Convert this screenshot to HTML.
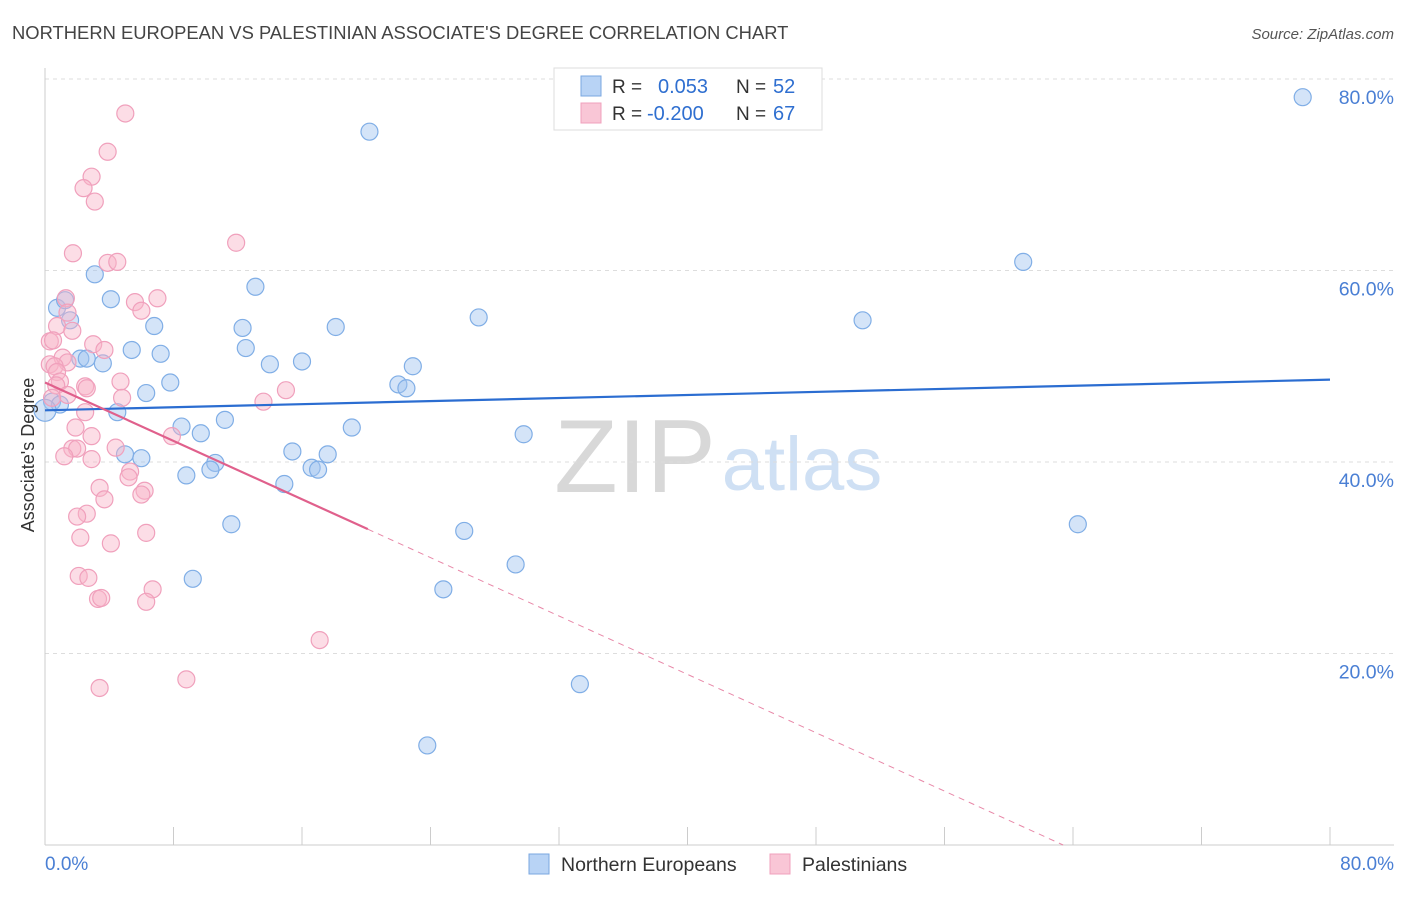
<!DOCTYPE html>
<html><head><meta charset="utf-8"><style>
body{margin:0;background:#fff;font-family:"Liberation Sans",sans-serif;}
svg text{font-family:"Liberation Sans",sans-serif;}
</style></head><body>
<svg id="chart" width="1406" height="892" xmlns="http://www.w3.org/2000/svg">
<text x="12" y="39" font-size="18.4" fill="#444">NORTHERN EUROPEAN VS PALESTINIAN ASSOCIATE'S DEGREE CORRELATION CHART</text>
<text x="1394" y="39" font-size="15" fill="#555" text-anchor="end" font-style="italic">Source: ZipAtlas.com</text>
<g>
<text x="635" y="492" font-size="104" fill="#d8d8d8" text-anchor="middle" font-family="Liberation Serif">ZIP</text>
<text x="802" y="490" font-size="76" fill="#cfe0f4" text-anchor="middle">atlas</text>
</g>
<g id="grid"></g>
<g id="axes"></g>
<g id="marks"></g>
<text transform="translate(34,455) rotate(-90)" font-size="18" fill="#333" text-anchor="middle">Associate's Degree</text>
<text x="45" y="870" font-size="19" fill="#4a7fd4">0.0%</text>
<text x="1394" y="870" font-size="19" fill="#4a7fd4" text-anchor="end">80.0%</text>
<g>
<rect x="554" y="68" width="268" height="62" fill="#fff" stroke="#ddd"/>
<rect x="581" y="76" width="20" height="20" fill="#b8d3f5" stroke="#7aa7e0"/>
<rect x="581" y="103" width="20" height="20" fill="#f9c6d6" stroke="#f0a0bc"/>
<text x="612" y="93" font-size="19" fill="#333">R =</text>
<text x="658" y="93" font-size="20" fill="#2f6fd0">0.053</text>
<text x="736" y="93" font-size="19" fill="#333">N =</text>
<text x="773" y="93" font-size="20" fill="#2f6fd0">52</text>
<text x="612" y="120" font-size="19" fill="#333">R =</text>
<text x="647" y="120" font-size="20" fill="#2f6fd0">-0.200</text>
<text x="736" y="120" font-size="19" fill="#333">N =</text>
<text x="773" y="120" font-size="20" fill="#2f6fd0">67</text>
</g>
<g>
<rect x="529" y="854" width="20" height="20" fill="#b8d3f5" stroke="#7aa7e0"/>
<text x="561" y="871" font-size="19.5" fill="#333">Northern Europeans</text>
<rect x="770" y="854" width="20" height="20" fill="#f9c6d6" stroke="#f0a0bc"/>
<text x="802" y="871" font-size="19.5" fill="#333">Palestinians</text>
</g>
</svg>
<script>
const yTicks=[20,40,60,80];
const yTickLabels=["20.0%","40.0%","60.0%","80.0%"];
const xTicks=[0,8,16,24,32,40,48,56,64,72,80];
const blueX=[78.3,20.2,60.9,3.1,13.1,0.75,4.1,1.25,1.56,27.0,50.9,6.8,12.3,18.1,12.5,5.4,7.2,2.2,2.6,3.6,14.0,16.0,22.9,6.3,7.8,22.0,22.5,0.44,0.93,0,4.5,11.2,8.5,9.7,19.1,29.8,4.98,6.0,15.4,17.6,10.6,10.3,16.6,17.0,8.8,14.9,11.6,26.1,64.3,29.3,9.2,24.8,33.3,23.8];
const blueY=[78.1,74.5,60.9,59.6,58.3,56.1,57.0,56.9,54.8,55.1,54.8,54.2,54.0,54.1,51.9,51.7,51.3,50.8,50.8,50.3,50.2,50.5,50.0,47.2,48.3,48.1,47.7,46.3,46.0,45.4,45.2,44.4,43.7,43.0,43.6,42.9,40.8,40.4,41.1,40.8,39.9,39.2,39.4,39.2,38.6,37.7,33.5,32.8,33.5,29.3,27.8,26.7,16.8,10.4];
const pinkX=[5.0,3.9,2.9,2.4,3.1,11.9,1.74,3.9,4.5,7.0,5.6,1.3,6.0,1.4,0.75,1.7,0.3,0.5,3.0,3.7,1.1,1.4,0.3,0.6,0.75,0.93,0.7,2.5,2.6,4.7,15.0,1.4,0.44,4.8,13.6,2.5,1.9,2.9,7.9,4.4,1.7,2.0,1.2,2.9,5.3,5.2,3.4,6.2,6.0,3.7,2.6,2.0,6.3,2.2,4.1,2.1,2.7,6.7,3.3,3.5,6.3,17.1,8.8,3.4];
const pinkY=[76.4,72.4,69.8,68.6,67.2,62.9,61.8,60.8,60.9,57.1,56.7,57.1,55.8,55.6,54.2,53.7,52.6,52.7,52.3,51.7,50.9,50.4,50.2,50.0,49.4,48.4,48.0,47.9,47.7,48.4,47.5,47.0,46.7,46.7,46.3,45.2,43.6,42.7,42.7,41.5,41.4,41.4,40.6,40.3,39.0,38.4,37.3,37.0,36.6,36.1,34.6,34.3,32.6,32.1,31.5,28.1,27.9,26.7,25.7,25.8,25.4,21.4,17.3,16.4];
const blueTrend=[45.4,0.04];
const pinkTrend=[48.3,-0.762];
const pinkSolidEnd=20.1;

const NS="http://www.w3.org/2000/svg";
const X0=45,X1=1330,Y0=845,Y80=79;
const xs=v=>X0+(v/80)*(X1-X0);
const ys=v=>Y0-(v/80)*(Y0-Y80);
function mk(tag,attrs,parent){const e=document.createElementNS(NS,tag);for(const k in attrs)e.setAttribute(k,attrs[k]);parent.appendChild(e);return e;}
const grid=document.getElementById('grid'),axes=document.getElementById('axes'),marks=document.getElementById('marks');
yTicks.forEach((t,i)=>{
 const l=mk('line',{x1:X0,x2:1394,y1:ys(t),y2:ys(t),stroke:'#ddd','stroke-dasharray':'4,4'},grid);
 
 
 const tx=mk('text',{x:1394,y:ys(t)+25,'font-size':19.5,fill:'#4a7fd4','text-anchor':'end'},axes);
 tx.textContent=yTickLabels[i];
 
 
});
const ya=mk('line',{x1:X0,x2:X0,y1:68,y2:Y0,stroke:'#ccc'},axes);


const xa=mk('line',{x1:X0,x2:1394,y1:Y0,y2:Y0,stroke:'#ccc'},axes);


xTicks.forEach(t=>{
 const l=mk('line',{x1:xs(t),x2:xs(t),y1:Y0,y2:Y0-18,stroke:'#ccc'},axes);
 
 
});
function pts(X,Y,fill,stroke,name){
 X.forEach((x,i)=>{
  const c=mk('circle',{cx:xs(x),cy:ys(Y[i]),r:(x===0?11:8.5),fill:fill,stroke:stroke,'stroke-width':1.2},marks);
  
  
 });
}
pts(blueX,blueY,'rgba(160,196,240,0.45)','#80aee6','northern-european-point');
pts(pinkX,pinkY,'rgba(248,180,200,0.45)','#f0a0bc','palestinian-point');
const bl=mk('line',{x1:xs(0),y1:ys(blueTrend[0]),x2:xs(80),y2:ys(blueTrend[0]+blueTrend[1]*80),stroke:'#2b6dd1','stroke-width':2.2},marks);


const pz=-pinkTrend[0]/pinkTrend[1];
const p1=mk('line',{x1:xs(0),y1:ys(pinkTrend[0]),x2:xs(pinkSolidEnd),y2:ys(pinkTrend[0]+pinkTrend[1]*pinkSolidEnd),stroke:'#e0608c','stroke-width':2.2},marks);


const p2=mk('line',{x1:xs(pinkSolidEnd),y1:ys(pinkTrend[0]+pinkTrend[1]*pinkSolidEnd),x2:xs(pz),y2:ys(0),stroke:'#e888a8','stroke-width':1,'stroke-dasharray':'6,5'},marks);


</script>
</body></html>
